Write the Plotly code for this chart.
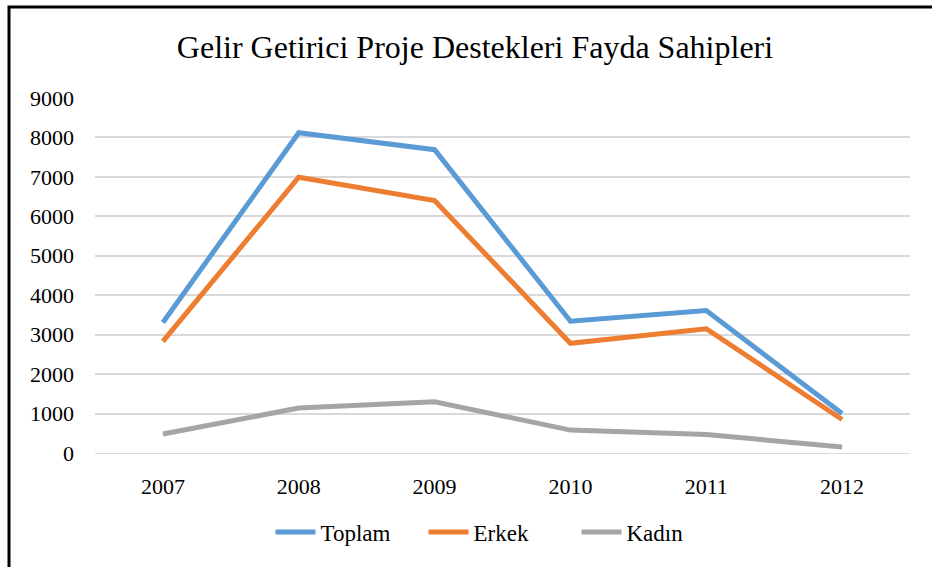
import plotly.graph_objects as go

years = ["2007", "2008", "2009", "2010", "2011", "2012"]
toplam = [3310, 8120, 7690, 3340, 3610, 1000]
erkek = [2830, 6990, 6400, 2780, 3150, 850]
kadin = [480, 1140, 1300, 580, 470, 150]
y_ticks = [0, 1000, 2000, 3000, 4000, 5000, 6000, 7000, 8000, 9000]

W, H = 932, 567
L, R, T, B = 95, 22, 98, 114
pw, ph = W - L - R, H - T - B

font = "Liberation Serif"
tf = dict(family=font, size=22, color="#000000")
lf = dict(family=font, size=23, color="#000000")

fig = go.Figure()
for name, vals, col in [("Toplam", toplam, "#5B9BD5"),
                        ("Erkek", erkek, "#ED7D31"),
                        ("Kadın", kadin, "#A5A5A5")]:
    fig.add_trace(go.Scatter(x=years, y=vals, name=name, mode="lines",
                             line=dict(color=col, width=5)))

fig.update_layout(
    width=W, height=H,
    margin=dict(l=L, r=R, t=T, b=B),
    paper_bgcolor="white", plot_bgcolor="white",
    font=tf,
    title=dict(text="Gelir Getirici Proje Destekleri Fayda Sahipleri",
               x=475 / W, xanchor="center",
               y=1 - 47 / H, yanchor="middle",
               font=dict(family=font, size=32, color="#000000")),
    legend=dict(orientation="h", x=(500 - L) / pw, xanchor="center",
                y=(0 - (532 - (H - B))) / ph, yanchor="middle",
                font=lf, itemwidth=40, traceorder="normal",
                entrywidth=98, entrywidthmode="pixels"),
    xaxis=dict(type="category", range=[-0.5, 5.5], showgrid=False,
               showline=True, linecolor="#D9D9D9", linewidth=1,
               ticks="", ticklabelstandoff=14, tickfont=tf),
    yaxis=dict(range=[0, 9000], tickvals=y_ticks, showgrid=True,
               gridcolor="#D9D9D9", gridwidth=1.5, zeroline=False,
               showline=False, ticks="", ticklabelstandoff=20, tickfont=tf),
    shapes=[dict(type="rect", xref="paper", yref="paper",
                 x0=(9 - L) / pw, x1=(W + 10 - L) / pw,
                 y0=-(B + 20) / ph, y1=(H - B - 7) / ph,
                 line=dict(color="#000000", width=3), layer="above")],
)

fig.write_html("out.html", config={"displayModeBar": False},
               post_script="document.body.style.margin='0';document.body.style.padding='0';")
